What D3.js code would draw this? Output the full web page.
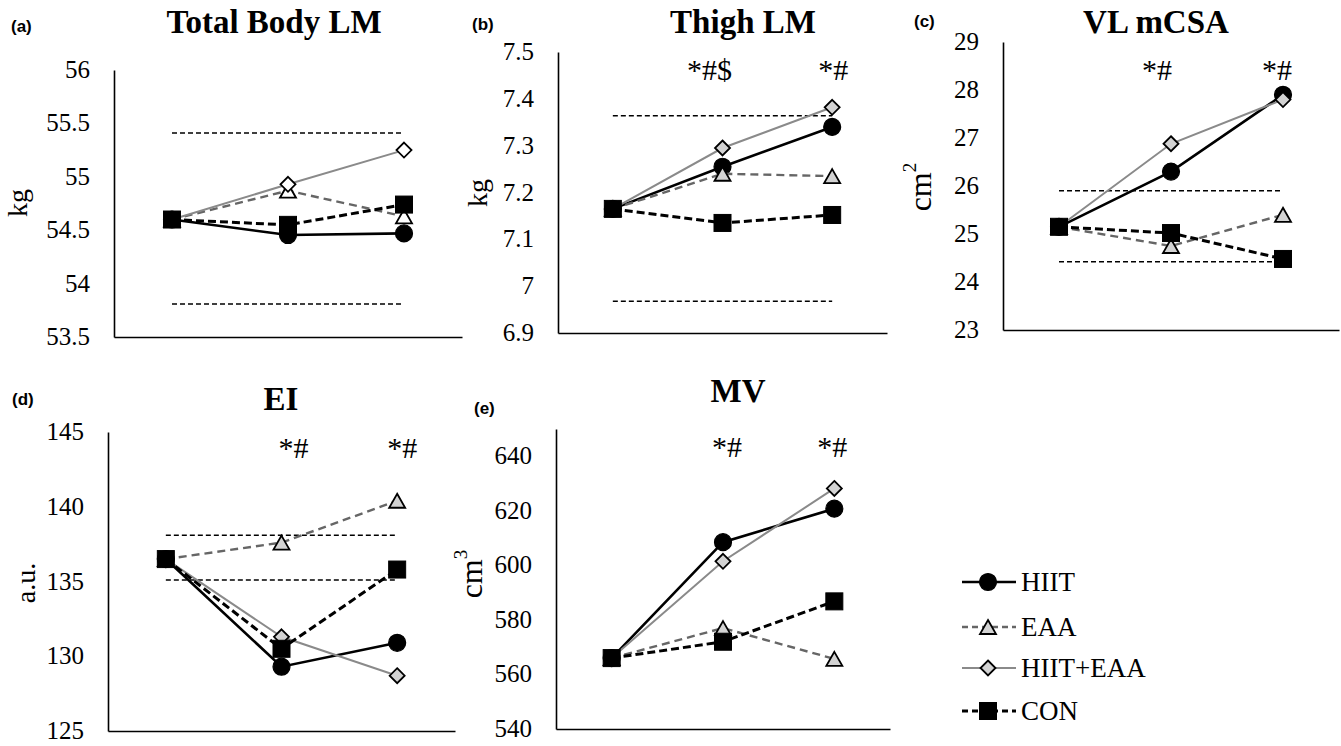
<!DOCTYPE html>
<html>
<head>
<meta charset="utf-8">
<script src="https://cdn.jsdelivr.net/npm/d3@7"></script>
<style>
  body { margin: 0; background: #fff; }
  svg { display: block; }
</style>
</head>
<body>
<div id="chart"></div>
<script>
// time points (x categories, not labelled in the figure)
const timepoints = ["PRE", "MID", "POST"];
const groups = ["HIIT", "EAA", "HIIT+EAA", "CON"];

// values, one row per group (same order as groups)
const totalBodyLM = [
    [54.6, 54.455, 54.47],
    [54.6, 54.87, 54.63],
    [54.6, 54.93, 55.25],
    [54.6, 54.55, 54.74]
];
const thighLM = [
    [7.165, 7.255, 7.34],
    [7.165, 7.24, 7.235],
    [7.165, 7.295, 7.382],
    [7.165, 7.135, 7.152]
];
const vlCSA = [
    [25.15, 26.3, 27.9],
    [25.15, 24.75, 25.4],
    [25.15, 26.88, 27.8],
    [25.15, 25.02, 24.48]
];
const ei = [
    [136.5, 129.3, 130.9],
    [136.5, 137.6, 140.4],
    [136.5, 131.3, 128.7],
    [136.5, 130.5, 135.8]
];
const mv = [
    [566, 608.5, 620.8],
    [566, 577, 565.7],
    [566, 601.5, 628.2],
    [566, 572, 586.8]
];

// dashed reference lines
const totalBodyLMRef = [55.41, 53.81];
const thighLMRef = [7.364, 6.968];
const vlCSARef = [25.9, 24.42];
const eiRef = [138.1, 135.1];
const mvRef = [];

// tick labels
const totalBodyLMTicks = [53.5, 54, 54.5, 55, 55.5, 56];
const thighLMTicks = [6.9, 7, 7.1, 7.2, 7.3, 7.4, 7.5];
const vlCSATicks = [23, 24, 25, 26, 27, 28, 29];
const eiTicks = [125, 130, 135, 140, 145];
const mvTicks = [540, 560, 580, 600, 620, 640];

// significance marks per time point
const totalBodyLMMarks = ["", "", ""];
const thighLMMarks = ["", "*#$", "*#"];
const vlCSAMarks = ["", "*#", "*#"];
const eiMarks = ["", "*#", "*#"];
const mvMarks = ["", "*#", "*#"];

const serif = "'Liberation Serif', 'Times New Roman', serif";
const sans = "'Liberation Sans', Arial, sans-serif";

// style per group
const styles = [
    {stroke: "#000", width: 2.6, dash: null, shape: "circle", fill: "#000"},
    {stroke: "#666", width: 2.4, dash: "8,5", shape: "triangle", fill: "#d3d3d3"},
    {stroke: "#8a8a8a", width: 2, dash: null, shape: "diamond", fill: "#d3d3d3"},
    {stroke: "#000", width: 3, dash: "8,4", shape: "square", fill: "#000"}
];

const panels = [
    {tag: "(a)", title: "Total Body LM", unit: "kg", sup: null, data: totalBodyLM, ref: totalBodyLMRef,
     ticks: totalBodyLMTicks, marks: totalBodyLMMarks, domain: [53.5, 56],
     left: 114, right: 462, top: 70, bottom: 337,
     titleX: 274, titleY: 33, tagX: 11, tagY: 32, unitX: 17, unitY: 203, unitSize: 28,
     markY: 80, markDx: [0, 0, 0], hollow: true},
    {tag: "(b)", title: "Thigh LM", unit: "kg", sup: null, data: thighLM, ref: thighLMRef,
     ticks: thighLMTicks, marks: thighLMMarks, domain: [6.9, 7.5],
     left: 558, right: 887, top: 52, bottom: 333,
     titleX: 743, titleY: 33, tagX: 472, tagY: 30, unitX: 477, unitY: 193, unitSize: 28,
     markY: 80, markDx: [0, -13, 1]},
    {tag: "(c)", title: "VL mCSA", unit: "cm", sup: "2", data: vlCSA, ref: vlCSARef,
     ticks: vlCSATicks, marks: vlCSAMarks, domain: [23, 29],
     left: 1003, right: 1339, top: 42, bottom: 330,
     titleX: 1156, titleY: 33, tagX: 914, tagY: 27, unitX: 920, unitY: 187, unitSize: 32,
     markY: 80, markDx: [0, -14, -6]},
    {tag: "(d)", title: "EI", unit: "a.u.", sup: null, data: ei, ref: eiRef,
     ticks: eiTicks, marks: eiMarks, domain: [125, 145],
     left: 108, right: 455, top: 432, bottom: 731,
     titleX: 281, titleY: 410, tagX: 12, tagY: 405, unitX: 25, unitY: 583, unitSize: 28,
     markY: 458, markDx: [0, 12, 5]},
    {tag: "(e)", title: "MV", unit: "cm", sup: "3", data: mv, ref: mvRef,
     ticks: mvTicks, marks: mvMarks, domain: [540, 650],
     left: 556, right: 890, top: 429, bottom: 729,
     titleX: 738, titleY: 402, tagX: 474, tagY: 414, unitX: 471, unitY: 574, unitSize: 32,
     markY: 457, markDx: [0, 4, -2]}
];

const svg = d3.select("#chart").append("svg")
    .attr("width", 1341)
    .attr("height", 746);

function drawMarker(sel, shape, fill, size) {
    if (shape === "circle") {
        sel.append("circle").attr("r", size / 2).attr("fill", fill).attr("stroke", "#000").attr("stroke-width", 1.2);
    } else if (shape === "square") {
        sel.append("rect").attr("x", -size / 2).attr("y", -size / 2).attr("width", size).attr("height", size)
            .attr("fill", fill).attr("stroke", "#000").attr("stroke-width", 1);
    } else if (shape === "triangle") {
        let s = size - 1, h = size - 3;
        sel.append("path").attr("d", `M0,${-h / 2}L${s / 2},${h / 2}L${-s / 2},${h / 2}Z`)
            .attr("fill", fill).attr("stroke", "#000").attr("stroke-width", 1.8);
    } else {
        let r = size / 2 - 0.5;
        sel.append("path").attr("d", `M0,${-r}L${r},0L0,${r}L${-r},0Z`)
            .attr("fill", fill).attr("stroke", "#000").attr("stroke-width", 1.8);
    }
}

function drawPanel(cfg) {
    const g = svg.append("g");

    const x = d3.scalePoint().domain(timepoints).range([cfg.left, cfg.right]).padding(0.5);
    const y = d3.scaleLinear().domain(cfg.domain).range([cfg.bottom, cfg.top]);

    // y axis
    const yAxis = g.append("g")
        .attr("transform", `translate(${cfg.left},0)`)
        .attr("font-family", serif)
        .call(d3.axisLeft(y).tickValues(cfg.ticks).tickSize(0).tickPadding(24).tickFormat(d => d));
    yAxis.attr("font-family", serif).attr("font-size", 25);
    yAxis.select(".domain").attr("stroke", "#000").attr("stroke-width", 1.6);
    yAxis.selectAll("text")
        .attr("font-family", serif)
        .attr("font-size", 25)
        .attr("dy", "0.3em")
        .attr("fill", "#000");

    // x axis, no labels
    const xAxis = g.append("g")
        .attr("transform", `translate(0,${cfg.bottom})`)
        .call(d3.axisBottom(x).tickValues([]).tickSizeOuter(0));
    xAxis.select(".domain").attr("stroke", "#000").attr("stroke-width", 1.6);

    // reference lines
    g.selectAll(".ref")
        .data(cfg.ref)
        .enter()
        .append("line")
        .attr("x1", x(timepoints[0]))
        .attr("x2", x(timepoints[timepoints.length - 1]))
        .attr("y1", d => y(d))
        .attr("y2", d => y(d))
        .attr("stroke", "#000")
        .attr("stroke-width", 1.5)
        .attr("stroke-dasharray", "5,3");

    const line = d3.line()
        .x((d, j) => x(timepoints[j]))
        .y(d => y(d));

    cfg.data.forEach(function(vals, i) {
        let st = styles[i];
        let fill = (cfg.hollow && (st.shape === "triangle" || st.shape === "diamond")) ? "#fff" : st.fill;

        g.append("path")
            .datum(vals)
            .attr("d", line)
            .attr("fill", "none")
            .attr("stroke", st.stroke)
            .attr("stroke-width", st.width)
            .attr("stroke-dasharray", st.dash);

        g.selectAll(".m" + i)
            .data(vals)
            .enter()
            .append("g")
            .attr("transform", (d, j) => `translate(${x(timepoints[j])},${y(d)})`)
            .each(function() {
                let size = st.shape === "diamond" ? 16 : 17;
                drawMarker(d3.select(this), st.shape, fill, size);
            });
    });

    // significance marks
    g.selectAll(".mark")
        .data(cfg.marks)
        .enter()
        .append("text")
        .attr("x", (d, j) => x(timepoints[j]) + cfg.markDx[j])
        .attr("y", cfg.markY)
        .attr("text-anchor", "middle")
        .attr("font-family", serif)
        .attr("font-size", 30)
        .text(d => d);

    // title
    g.append("text")
        .attr("x", cfg.titleX)
        .attr("y", cfg.titleY)
        .attr("text-anchor", "middle")
        .attr("font-family", serif)
        .attr("font-weight", "bold")
        .attr("font-size", 33)
        .text(cfg.title);

    // panel tag
    g.append("text")
        .attr("x", cfg.tagX)
        .attr("y", cfg.tagY)
        .attr("font-family", sans)
        .attr("font-weight", "bold")
        .attr("font-size", 17)
        .text(cfg.tag);

    // unit label
    const unit = g.append("text")
        .attr("transform", `translate(${cfg.unitX},${cfg.unitY}) rotate(-90)`)
        .attr("text-anchor", "middle")
        .attr("dominant-baseline", "central")
        .attr("font-family", serif)
        .attr("font-size", cfg.unitSize)
        .text(cfg.unit);
    if (cfg.sup) {
        unit.append("tspan")
            .attr("dy", "-0.55em")
            .attr("font-size", cfg.unitSize * 0.6)
            .text(cfg.sup);
    }
}

panels.forEach(drawPanel);

// legend
const legendY = [582, 627, 668, 711];
const legend = svg.append("g");
groups.forEach(function(name, i) {
    let st = styles[i];
    let row = legend.append("g").attr("transform", `translate(0,${legendY[i]})`);
    row.append("line")
        .attr("x1", 962).attr("x2", 1016)
        .attr("stroke", st.stroke)
        .attr("stroke-width", st.width)
        .attr("stroke-dasharray", st.dash ? "6,4" : null);
    let m = row.append("g").attr("transform", "translate(988,0)");
    drawMarker(m, st.shape, st.fill, st.shape === "diamond" ? 16 : 17);
    row.append("text")
        .attr("x", 1021)
        .attr("y", 0)
        .attr("dy", "0.35em")
        .attr("font-family", serif)
        .attr("font-size", 27)
        .text(name);
});
</script>
</body>
</html>
